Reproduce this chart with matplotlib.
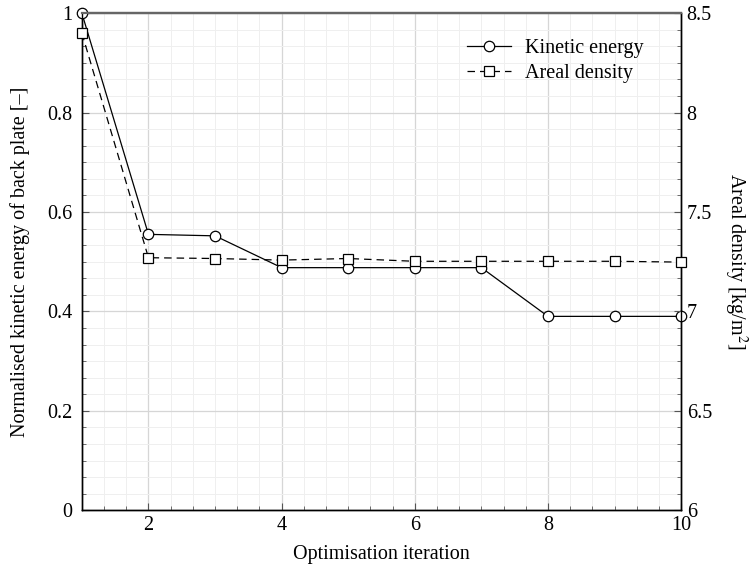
import matplotlib
matplotlib.use("Agg")
import matplotlib.pyplot as plt
from matplotlib.ticker import MultipleLocator

iterations = [1, 2, 3, 4, 5, 6, 7, 8, 9, 10]
kinetic_energy = [1.0, 0.555, 0.552, 0.488, 0.488, 0.488, 0.488, 0.390, 0.390, 0.390]
areal_density = [8.40, 7.27, 7.266, 7.258, 7.266, 7.252, 7.252, 7.252, 7.252, 7.248]

plt.rcParams['font.family'] = ['Liberation Serif', 'DejaVu Serif']
plt.rcParams['mathtext.fontset'] = 'stix'

FS = 14.5

fig = plt.figure(figsize=(7.51, 5.72), dpi=100)
ax = fig.add_axes([0.109, 0.108, 0.798, 0.869])
ax2 = ax.twinx()

ax.set_xlim(1, 10)
ax.set_ylim(0, 1)
ax2.set_ylim(6, 8.5)

ax.xaxis.set_major_locator(MultipleLocator(2))
ax.xaxis.set_minor_locator(MultipleLocator(1/3))
ax.yaxis.set_major_locator(MultipleLocator(0.2))
ax.yaxis.set_minor_locator(MultipleLocator(0.2/6))
ax2.yaxis.set_major_locator(MultipleLocator(0.5))
ax2.yaxis.set_minor_locator(MultipleLocator(0.5/6))

ax.grid(which='major', color='#d6d6d6', linewidth=0.9)
ax.grid(which='minor', color='#efefef', linewidth=0.7)
ax.set_axisbelow(True)

for a in (ax, ax2):
    a.tick_params(which='both', direction='in', labelsize=FS, color='#555555')
    a.tick_params(which='major', length=5)
    a.tick_params(which='minor', length=3)
ax.tick_params(which='both', top=False, right=False)
ax.tick_params(axis='y', pad=7)
ax.tick_params(axis='x', pad=4)
ax2.tick_params(which='both', left=False, right=True, pad=4)

def fmt_left(v, pos):
    if abs(v) < 1e-9:
        return '0'
    if abs(v - 1) < 1e-9:
        return '1'
    return ('%.1f' % v)
ax.yaxis.set_major_formatter(plt.FuncFormatter(fmt_left))
ax2.yaxis.set_major_formatter(plt.FuncFormatter(lambda v, p: ('%g' % v)))

l1, = ax.plot(iterations, kinetic_energy, color='black', linewidth=0.9,
              marker='o', markersize=7.5, markerfacecolor='white',
              markeredgecolor='black', markeredgewidth=0.9,
              label='Kinetic energy', clip_on=False, zorder=5)
l2, = ax2.plot(iterations, areal_density, color='black', linewidth=0.9,
               linestyle=(0, (6, 4)),
               marker='s', markersize=7.5, markerfacecolor='white',
               markeredgecolor='black', markeredgewidth=0.9,
               label='Areal density', clip_on=False, zorder=5)

for a in (ax, ax2):
    for s in ('left', 'bottom', 'right'):
        a.spines[s].set_color('black')
        a.spines[s].set_linewidth(1.0)
    a.spines['top'].set_color('#666666')
    a.spines['top'].set_linewidth(1.6)

ax.set_xlabel('Optimisation iteration', fontsize=FS, labelpad=7)
ax.set_ylabel('Normalised kinetic energy of back plate [\u2013]', fontsize=FS, labelpad=12)
ax2.set_ylabel('Areal density [kg/m$^2$]', fontsize=FS, rotation=270, labelpad=27)

leg = ax2.legend(handles=[l1, l2], loc='upper right', frameon=False,
                 fontsize=FS, handlelength=2.2, handletextpad=0.7,
                 labelspacing=0.3, bbox_to_anchor=(0.968, 0.984))

fig.savefig('out.png', dpi=100)
